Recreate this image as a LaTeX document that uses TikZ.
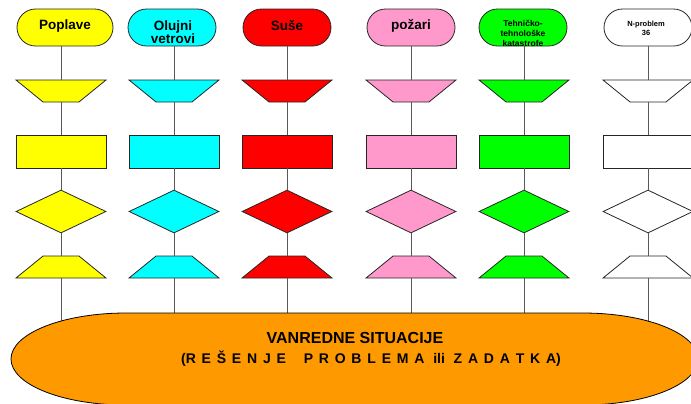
\documentclass[tikz,border=0pt]{standalone}
\usepackage{fontspec}
\setmainfont{Liberation Sans}
\usetikzlibrary{shapes.geometric,shapes.misc}

\definecolor{zuta}{HTML}{FFFF00}
\definecolor{plava}{HTML}{00FFFF}
\definecolor{crvena}{HTML}{FF0000}
\definecolor{roza}{HTML}{FF99CC}
\definecolor{zelena}{HTML}{00FF00}
\definecolor{narandzasta}{HTML}{FF9900}

\begin{document}
\begin{tikzpicture}[x=1bp,y=-1bp,
	oblik/.style={draw=black!85,line width=0.8bp,inner sep=1bp},
	kraj/.style={oblik,rounded rectangle,minimum width=90bp,minimum height=37bp},
	ulaz/.style={oblik,trapezium,trapezium stretches=true,trapezium angle=53,shape border rotate=180,minimum width=90bp,minimum height=22bp},
	izlaz/.style={oblik,trapezium,trapezium stretches=true,trapezium angle=53,minimum width=90bp,minimum height=22bp},
	blok/.style={oblik,rectangle,minimum width=90bp,minimum height=33bp},
	odluka/.style={oblik,diamond,minimum width=90bp,minimum height=43bp},
	veza/.style={black!65,line width=0.8bp},
	tekst/.style={font=\bfseries\fontsize{13.5bp}{13bp}\selectfont,align=center,inner sep=0pt}]
			\useasboundingbox (0,0) rectangle (691,403);
			
			% pocetni cvorovi
			\node[kraj,fill=zuta,minimum width=98bp] (t1) at (65,27.5) {};
			\node[kraj,fill=plava] (t2) at (172,27.5) {};
			\node[kraj,fill=crvena] (t3) at (287,27.5) {};
			\node[kraj,fill=roza] (t4) at (411,27.5) {};
			\node[kraj,fill=zelena] (t5) at (523,27.5) {};
			\node[kraj,fill=white] (t6) at (648,27.5) {};
			
			\node[tekst] (l1) at (65,26) {Poplave};
			\node[tekst] (l2) at (173,32.5) {Olujni\\vetrovi};
			\node[tekst] (l3) at (287,26) {Suše};
			\node[tekst] (l4) at (411,26) {požari};
			\node[tekst,font=\bfseries\fontsize{8.5bp}{10bp}\selectfont] (l5) at (523,33) {Tehničko-\\tehnološke\\katastrofe};
			\node[tekst,font=\bfseries\fontsize{7.5bp}{9bp}\selectfont] (l6) at (646,28.5) {N-problem\\36};
			
			% kolone
			\foreach \n/\x/\c in {1/61/zuta,2/174/plava,3/287/crvena,4/411/roza,5/524/zelena,6/648/white}
			{
				\node[ulaz,fill=\c] (p\n) at (\x,91) {};
				\node[blok,fill=\c] (r\n) at (\x,151.5) {};
				\node[odluka,fill=\c] (d\n) at (\x,211.5) {};
				\node[izlaz,fill=\c] (q\n) at (\x,267) {};
				\coordinate (e\n) at (\x,330);
			}
			\foreach \n in {1,...,6}
			\draw[veza] (p\n |- t\n.south) -- (p\n) -- (r\n) -- (d\n) -- (q\n) -- (e\n);
			
			% zajednicko resenje
			\draw[oblik,draw=black,fill=narandzasta] (126,313) -- (583,313)
				arc[start angle=-90,end angle=90,x radius=115,y radius=46] -- (126,405)
				arc[start angle=90,end angle=270,x radius=115,y radius=46] -- cycle;
			\node[tekst,font=\bfseries\fontsize{16bp}{16bp}\selectfont] (vs) at (355,338) {VANREDNE SITUACIJE};
			\node[tekst,font=\bfseries\fontsize{14bp}{14bp}\selectfont] (rp) at (371,359)
				{\spaceskip=5.8bp (R E Š E N J E\hspace{12bp} P R O B L E M A\hspace{3bp} ili\hspace{3bp} Z A D A T K A)};
\end{tikzpicture}
\end{document}
